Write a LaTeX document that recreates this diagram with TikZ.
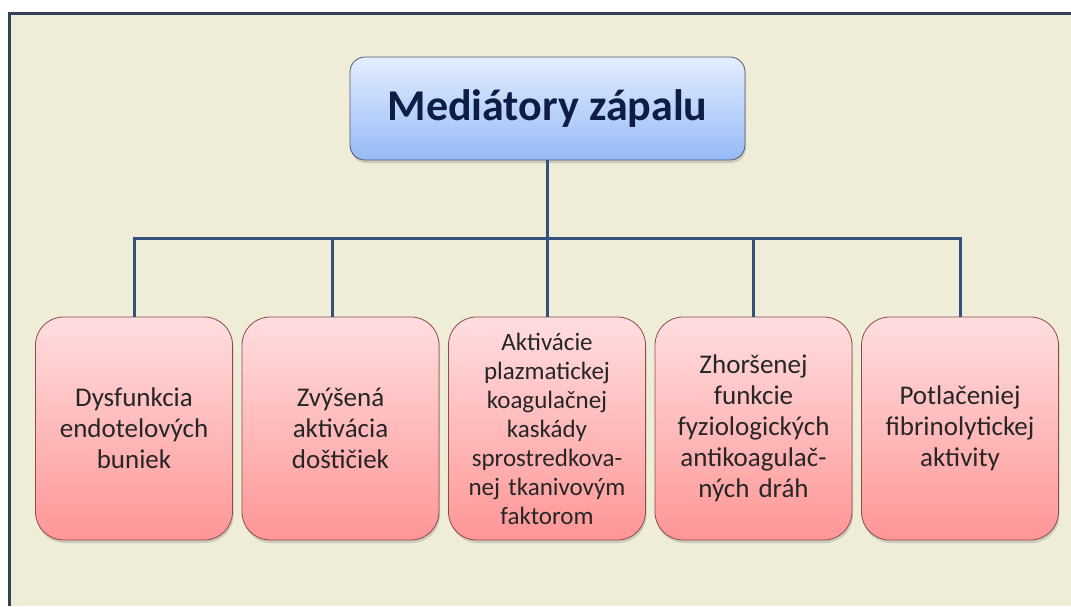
\documentclass[tikz,border=0pt]{standalone}
\usepackage{fontspec}
\setmainfont{Carlito}
\usetikzlibrary{shadows}
\definecolor{bgbeige}{RGB}{239,236,215}
\definecolor{framec}{RGB}{52,66,88}
\definecolor{linec}{RGB}{50,82,125}
\definecolor{pinktop}{RGB}{255,222,224}
\definecolor{pinkbot}{RGB}{255,150,150}
\definecolor{pinkedge}{RGB}{140,75,75}
\definecolor{bluetop}{RGB}{228,238,255}
\definecolor{bluebot}{RGB}{150,186,245}
\definecolor{blueedge}{RGB}{80,90,110}
\definecolor{titlec}{RGB}{15,28,70}
\definecolor{textc}{RGB}{38,38,38}
\begin{document}
\begin{tikzpicture}[x=1pt,y=-1pt,
  catbox/.style={draw=pinkedge, line width=0.8pt, rounded corners=28pt,
    top color=pinktop, bottom color=pinkbot,
    minimum width=197pt, minimum height=223pt, text width=194pt, align=center,
    font=\fontsize{27}{31}\selectfont, text=textc, inner sep=0pt,
    drop shadow={shadow xshift=1pt, shadow yshift=-3pt, opacity=0.3}},
  titlebox/.style={draw=blueedge, line width=0.8pt, rounded corners=15pt,
    top color=bluetop, bottom color=bluebot,
    minimum width=395pt, minimum height=103pt, align=center,
    font=\fontsize{44}{52}\selectfont\bfseries, text=titlec, inner sep=0pt,
    drop shadow={shadow xshift=1pt, shadow yshift=-3pt, opacity=0.3}},
  conn/.style={draw=linec, line width=3pt}
]
\useasboundingbox (0,0) rectangle (1071,606);
\fill[white] (0,0) rectangle (1071,606);
\fill[bgbeige] (9,13) rectangle (1071,606);
\draw[framec, line width=3pt] (9,606) -- (9,13) -- (1071,13);

\node[titlebox] (top) at (547.5,108.5) {Mediátory zápalu};

\node[catbox] (b1) at (134,428.5) {Dysfunkcia\\endotelových\\buniek};
\node[catbox] (b2) at (340.5,428.5) {Zvýšená\\aktivácia\\doštičiek};
\node[catbox, font=\fontsize{25}{29}\selectfont] (b3) at (547,428.5) {Aktivácie\\plazmatickej\\koagulačnej\\kaskády\\sprostredkova-\\nej tkanivovým\\faktorom};
\node[catbox] (b4) at (753.5,428.5) {Zhoršenej\\funkcie\\fyziologických\\antikoagulač-\\ných dráh};
\node[catbox] (b5) at (960,428.5) {Potlačeniej\\fibrinolytickej\\aktivity};

\coordinate (bar) at (0,238);
\coordinate (j2) at (332,238);
\draw[conn] (top.south) -- (top.south |- bar);
\draw[conn, line cap=rect] (b1.north |- bar) -- (b5.north |- bar);
\draw[conn] (b1.north |- bar) -- (b1.north);
\draw[conn] (j2) -- (j2 |- b2.north);
\draw[conn] (b3.north |- bar) -- (b3.north);
\draw[conn] (b4.north |- bar) -- (b4.north);
\draw[conn] (b5.north |- bar) -- (b5.north);
\end{tikzpicture}
\end{document}
